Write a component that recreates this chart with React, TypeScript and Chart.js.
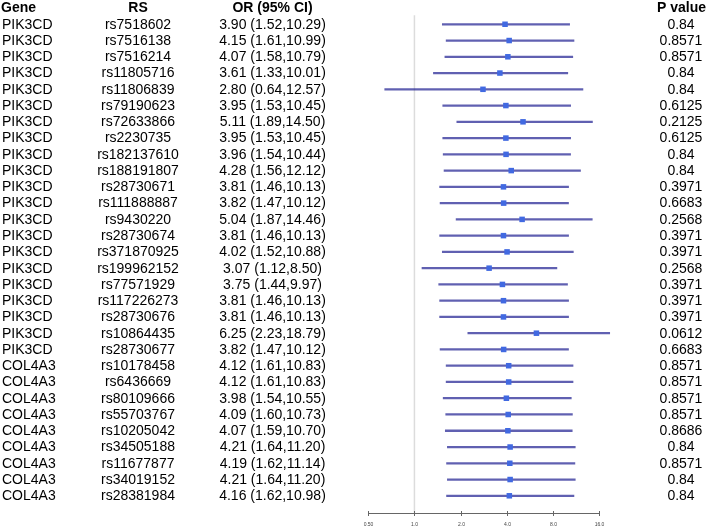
import React, { useEffect, useRef } from "react";
import { Chart, registerables } from "chart.js";
Chart.register(...registerables);

const genes = [
  "PIK3CD","PIK3CD","PIK3CD","PIK3CD","PIK3CD","PIK3CD","PIK3CD","PIK3CD","PIK3CD","PIK3CD",
  "PIK3CD","PIK3CD","PIK3CD","PIK3CD","PIK3CD","PIK3CD","PIK3CD","PIK3CD","PIK3CD","PIK3CD",
  "PIK3CD","COL4A3","COL4A3","COL4A3","COL4A3","COL4A3","COL4A3","COL4A3","COL4A3","COL4A3",
];
const rsIds = [
  "rs7518602","rs7516138","rs7516214","rs11805716","rs11806839","rs79190623","rs72633866","rs2230735",
  "rs182137610","rs188191807","rs28730671","rs111888887","rs9430220","rs28730674","rs371870925",
  "rs199962152","rs77571929","rs117226273","rs28730676","rs10864435","rs28730677","rs10178458",
  "rs6436669","rs80109666","rs55703767","rs10205042","rs34505188","rs11677877","rs34019152","rs28381984",
];
const orVals = [
  3.90,4.15,4.07,3.61,2.80,3.95,5.11,3.95,3.96,4.28,3.81,3.82,5.04,3.81,4.02,
  3.07,3.75,3.81,3.81,6.25,3.82,4.12,4.12,3.98,4.09,4.07,4.21,4.19,4.21,4.16,
];
const ciLow = [
  1.52,1.61,1.58,1.33,0.64,1.53,1.89,1.53,1.54,1.56,1.46,1.47,1.87,1.46,1.52,
  1.12,1.44,1.46,1.46,2.23,1.47,1.61,1.61,1.54,1.60,1.59,1.64,1.62,1.64,1.62,
];
const ciHigh = [
  10.29,10.99,10.79,10.01,12.57,10.45,14.50,10.45,10.44,12.12,10.13,10.12,14.46,10.13,10.88,
  8.50,9.97,10.13,10.13,18.79,10.12,10.83,10.83,10.55,10.73,10.70,11.20,11.14,11.20,10.98,
];
const pValues = [
  "0.84","0.8571","0.8571","0.84","0.84","0.6125","0.2125","0.6125","0.84","0.84",
  "0.3971","0.6683","0.2568","0.3971","0.3971","0.2568","0.3971","0.3971","0.3971","0.0612",
  "0.6683","0.8571","0.8571","0.8571","0.8571","0.8686","0.84","0.8571","0.84","0.84",
];
const headers = ["Gene", "RS", "OR (95% CI)", "P value"];
const xTicks = [0.5, 1, 2, 4, 8, 16];
const xTickLabels = ["0.50", "1.0", "2.0", "4.0", "8.0", "16.0"];

const Y_MIN = -1.05;
const Y_MAX = 30.04;
const FONT = '"Liberation Sans", Arial, Helvetica, sans-serif';

const forestPlugin = {
  id: "forestText",
  beforeDatasetsDraw(chart: any) {
    const { ctx, scales } = chart;
    const x = scales.x;
    const y = scales.y;
    ctx.save();
    ctx.strokeStyle = "#dcdcdc";
    ctx.lineWidth = 1.5;
    const x1 = x.getPixelForValue(1);
    ctx.beginPath();
    ctx.moveTo(x1, y.getPixelForValue(-0.55));
    ctx.lineTo(x1, y.getPixelForValue(Y_MAX));
    ctx.stroke();
    ctx.restore();
  },
  afterDraw(chart: any) {
    const { ctx, scales } = chart;
    const x = scales.x;
    const y = scales.y;
    ctx.save();
    ctx.fillStyle = "#000";
    ctx.textBaseline = "middle";
    const hy = y.getPixelForValue(-1);
    ctx.font = `bold 14px ${FONT}`;
    ctx.textAlign = "left";
    ctx.fillText(headers[0], 1, hy);
    ctx.textAlign = "center";
    ctx.fillText(headers[1], 138, hy);
    ctx.fillText(headers[2], 272.5, hy);
    ctx.fillText(headers[3], 681.5, hy);
    ctx.font = `14px ${FONT}`;
    for (let i = 0; i < rsIds.length; i++) {
      const py = y.getPixelForValue(i) + 0.5;
      ctx.textAlign = "left";
      ctx.fillText(genes[i], 2, py);
      ctx.textAlign = "center";
      ctx.fillText(rsIds[i], 138, py);
      ctx.fillText(
        `${orVals[i].toFixed(2)} (${ciLow[i].toFixed(2)},${ciHigh[i].toFixed(2)})`,
        272.5,
        py
      );
      ctx.fillText(pValues[i], 681, py);
    }
    const ay = Math.round(y.getPixelForValue(Y_MAX)) + 0.5;
    ctx.strokeStyle = "#666";
    ctx.lineWidth = 1;
    ctx.beginPath();
    ctx.moveTo(x.getPixelForValue(xTicks[0]), ay);
    ctx.lineTo(x.getPixelForValue(xTicks[xTicks.length - 1]), ay);
    ctx.stroke();
    ctx.font = `5px ${FONT}`;
    ctx.fillStyle = "#444";
    for (let k = 0; k < xTicks.length; k++) {
      const tx = Math.round(x.getPixelForValue(xTicks[k])) + 0.5;
      ctx.beginPath();
      ctx.moveTo(tx, ay - 2.5);
      ctx.lineTo(tx, ay + 2.5);
      ctx.stroke();
      ctx.fillText(xTickLabels[k], tx, ay + 11.5);
    }
    ctx.restore();
  },
};

export default function App() {
  const ref = useRef<HTMLCanvasElement | null>(null);
  useEffect(() => {
    if (!ref.current) return;
    const chart = new Chart(ref.current, {
      type: "bar",
      data: {
        datasets: [
          {
            type: "scatter",
            data: orVals.map((v, i) => ({ x: v, y: i })),
            pointStyle: "rect",
            pointRadius: 3.9,
            pointHoverRadius: 3.9,
            backgroundColor: "#4169E1",
            borderWidth: 0,
            clip: false,
            order: 0,
          } as any,
          {
            type: "bar",
            data: ciLow.map((lo, i) => ({ x: [lo, ciHigh[i]], y: i })),
            backgroundColor: "rgba(20,20,140,0.68)",
            borderWidth: 0,
            barThickness: 1.6,
            clip: false,
            order: 1,
          } as any,
        ],
      },
      options: {
        indexAxis: "y",
        animation: false,
        responsive: false,
        events: [],
        layout: { autoPadding: false, padding: { left: 368.3, right: 110, top: 7.2, bottom: 14.3 } },
        scales: {
          x: { type: "logarithmic", min: 0.5, max: 16, display: false, offset: false },
          y: { type: "linear", reverse: true, min: Y_MIN, max: Y_MAX, display: false, offset: false, grace: 0 },
        },
        plugins: { legend: { display: false }, tooltip: { enabled: false } },
      } as any,
      plugins: [forestPlugin],
    });
    return () => chart.destroy();
  }, []);
  return (
    <div style={{ position: "fixed", left: 0, top: 0, width: 709, height: 527, background: "#fff" }}>
      <canvas ref={ref} width={709} height={527} />
    </div>
  );
}
